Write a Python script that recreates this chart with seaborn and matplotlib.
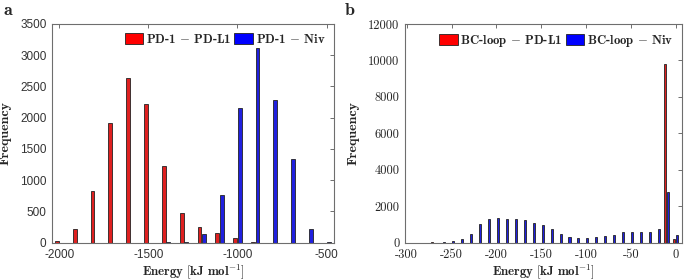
import pandas as pd
import seaborn as sns
import matplotlib.pyplot as plt
from matplotlib.patches import Patch

# ---- data ----
# panel a: PD-1 interaction energies, 100 kJ/mol bins
energy_a = [-2000, -1900, -1800, -1700, -1600, -1500, -1400, -1300,
            -1200, -1100, -1000, -900, -800, -700, -600, -500]
pdl1_a = [30, 210, 820, 1910, 2630, 2220, 1230, 480,
          250, 150, 70, 8, 0, 0, 0, 0]
niv_a = [0, 0, 0, 0, 0, 0, 5, 8,
         130, 760, 2160, 3110, 2290, 1330, 210, 15]
labels_a = ['PD-1 $-$ PD-L1', 'PD-1 $-$ Niv']

# panel b: BC-loop interaction energies, 10 kJ/mol bins
energy_b = [-270, -260, -250, -240, -230, -220, -210, -200, -190, -180,
            -170, -160, -150, -140, -130, -120, -110, -100, -90, -80,
            -70, -60, -50, -40, -30, -20, -10, 0]
pdl1_b = [15, 0, 0, 0, 0, 0, 0, 0, 0, 0,
          0, 0, 0, 0, 0, 0, 0, 0, 0, 0,
          0, 0, 0, 0, 0, 0, 9800, 180]
niv_b = [0, 40, 100, 200, 470, 1040, 1310, 1360, 1290, 1270,
         1250, 1070, 950, 750, 490, 290, 240, 240, 310, 350,
         420, 560, 550, 560, 560, 750, 2770, 400]
labels_b = ['BC-loop $-$ PD-L1', 'BC-loop $-$ Niv']

xticks_a = [-2000, -1500, -1000, -500]
yticks_a = [0, 500, 1000, 1500, 2000, 2500, 3000, 3500]
xticks_b = [-300, -250, -200, -150, -100, -50, 0]
yticks_b = [0, 2000, 4000, 6000, 8000, 10000, 12000]

colors = ['#ff0000', '#0000ff']
frame = '#6e6e6e'

sns.set_style('white')
plt.rcParams['mathtext.fontset'] = 'cm'


def long_df(energy, s1, s2, labels):
    return pd.DataFrame({
        'energy': energy + energy,
        'count': s1 + s2,
        'pair': [labels[0]] * len(energy) + [labels[1]] * len(energy),
    })


fig = plt.figure(figsize=(6.85, 2.8), dpi=100)
ax_a = fig.add_axes([52 / 685, 37.5 / 280, 282 / 685, 218.5 / 280])
ax_b = fig.add_axes([405 / 685, 37.5 / 280, 277 / 685, 218.5 / 280])

panels = [
    (ax_a, long_df(energy_a, pdl1_a, niv_a, labels_a), labels_a, 0.5, 0.15,
     (-2040, -458), (0, 3500), xticks_a, yticks_a),
    (ax_b, long_df(energy_b, pdl1_b, niv_b, labels_b), labels_b, 0.6, 0.25,
     (-302, 7), (0, 12000), xticks_b, yticks_b),
]

for ax, df, labels, w, g, xlim, ylim, xt, yt in panels:
    sns.barplot(data=df, x='energy', y='count', hue='pair', native_scale=True,
                palette=colors, width=w, gap=g, errorbar=None,
                edgecolor='#222222', linewidth=0.6, legend=False, ax=ax)
    ax.set_xlim(*xlim)
    ax.set_ylim(*ylim)
    ax.set_xticks(xt)
    ax.set_yticks(yt)
    for sp in ax.spines.values():
        sp.set_visible(True)
        sp.set_color(frame)
        sp.set_linewidth(0.8)
    ax.tick_params(direction='in', top=True, right=True, length=3,
                   width=0.7, color=frame)
    ax.tick_params(axis='x', pad=4.5)
    ax.tick_params(axis='y', pad=4)
    ax.set_xlabel(r'$\mathbf{Energy\ [kJ\ mol^{-1}]}$', fontsize=9.3)
    ax.xaxis.set_label_coords(0.5, -0.088)
    ax.set_ylabel('Frequency', family='cmb10', fontsize=10, labelpad=6)
    handles = [Patch(facecolor=c, edgecolor='#222222', linewidth=0.6) for c in colors]
    ax.legend(handles, labels, loc='upper right', ncol=2, frameon=False,
              prop={'family': 'cmb10', 'size': 9.2}, handlelength=1.45,
              handleheight=0.85, handletextpad=0.2, columnspacing=0.25,
              borderaxespad=0.3)

# panel a: sans tick labels, panel b: serif tick labels
ax_a.set_xticklabels([str(v) for v in xticks_a], family='Liberation Sans',
                     fontsize=8.5, color='#333333')
ax_a.set_yticklabels([str(v) for v in yticks_a], family='Liberation Sans',
                     fontsize=8.5, color='#333333')
ax_b.set_xticklabels([str(v) for v in xticks_b], family='cmr10', fontsize=9)
ax_b.set_yticklabels([str(v) for v in yticks_b], family='cmr10', fontsize=9)

fig.text(3 / 685, 1 - 15 / 280, 'a', family='cmb10', fontsize=13)
fig.text(345 / 685, 1 - 15 / 280, 'b', family='cmb10', fontsize=13)

fig.savefig('out.png', dpi=100)
